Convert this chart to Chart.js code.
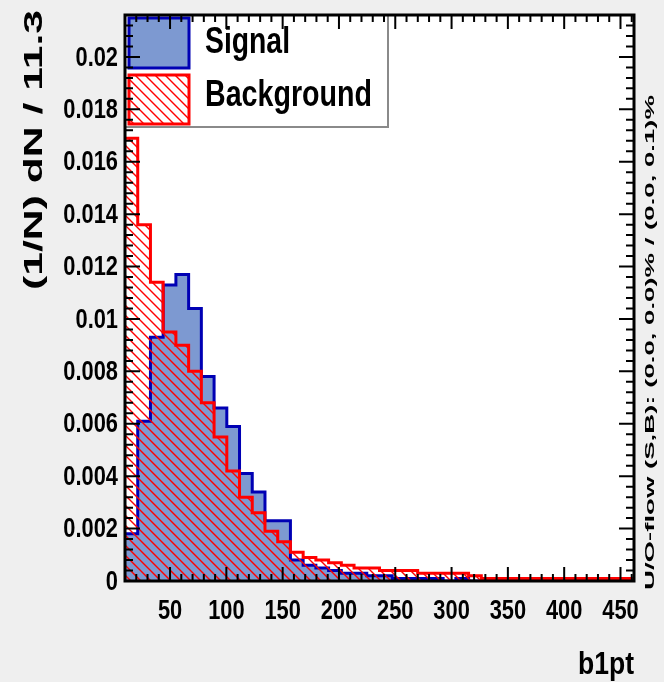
<!DOCTYPE html>
<html>
<head>
<meta charset="utf-8">
<title>b1pt</title>
<style>
  body { margin: 0; background: #efefef; }
  canvas { display: block; }
</style>
</head>
<body>
<canvas id="canvasChart" width="664" height="682"></canvas>
<script src="https://cdn.jsdelivr.net/npm/chart.js"></script>
<script>

// b1pt histogram: 40 bins of width 11.3 starting at 10, normalised to unit area
var binLow = 10;
var binWidth = 11.3;
var nBins = 40;

var signal = [0.0018, 0.0061, 0.0093, 0.0113, 0.0117, 0.0104, 0.0078, 0.0066, 0.0059, 0.0041,
              0.0034, 0.0023, 0.0023, 0.0008, 0.0006, 0.0005, 0.0004, 0.0003, 0.0003, 0.0002,
              0.0002, 0.0001, 0.0001, 0.0001, 0.0001, 0.0000, 0.0001, 0.0000, 0.0000, 0.0000,
              0.0000, 0.0000, 0.0000, 0.0000, 0.0000, 0.0000, 0.0000, 0.0000, 0.0000, 0.0000];

var background = [0.0169, 0.0136, 0.0114, 0.0095, 0.0090, 0.0080, 0.0068, 0.0055, 0.0042, 0.0032,
                  0.0026, 0.0019, 0.0015, 0.0011, 0.0009, 0.0008, 0.0007, 0.0006, 0.0005, 0.0005,
                  0.0004, 0.0004, 0.0004, 0.0003, 0.0003, 0.0003, 0.0003, 0.0002, 0.0001, 0.0001,
                  0.0001, 0.0001, 0.0001, 0.0001, 0.0001, 0.0001, 0.0001, 0.0001, 0.0001, 0.0001];

var xTicks = [50, 100, 150, 200, 250, 300, 350, 400, 450];
var yTicks = [0, 0.002, 0.004, 0.006, 0.008, 0.01, 0.012, 0.014, 0.016, 0.018, 0.02];
var yMax = 0.0216;
var xMinorStep = 10;
var yMinorStep = 0.0004;

var FONT = "'Liberation Sans', Arial, sans-serif";
var SQUEEZE = 0.78;

// turn bin contents into step points (left edge of each bin + closing right edge)
function toSteps(values) {
    var pts = values.map(function(v, i) {
        return { x: binLow + i * binWidth, y: v };
    });
    pts.push({ x: binLow + nBins * binWidth, y: values[values.length - 1] });
    return pts;
}

// red "\\\" hatching used for the background fill
function makeHatch() {
    var size = 10;
    var c = document.createElement('canvas');
    c.width = size; c.height = size;
    var g = c.getContext('2d');
    g.strokeStyle = '#ff0000';
    g.lineWidth = 1.4;
    g.beginPath();
    g.moveTo(0, 0); g.lineTo(size, size);
    g.moveTo(-size, 0); g.lineTo(size, 2 * size);
    g.moveTo(0, -size); g.lineTo(2 * size, size);
    g.stroke();
    return g.createPattern(c, 'repeat');
}

var hatch = makeHatch();

// text stretched/squeezed so it covers a given length
function fitText(ctx, text, x, y, angle, length, font, align) {
    ctx.save();
    ctx.font = font;
    var w = ctx.measureText(text).width;
    ctx.restore();
    squeezeText(ctx, text, x, y, angle, length / w, font, align);
}

function squeezeText(ctx, text, x, y, angle, sx, font, align) {
    ctx.save();
    ctx.translate(x, y);
    ctx.rotate(angle);
    ctx.scale(sx, 1);
    ctx.font = font;
    ctx.textAlign = align || 'left';
    ctx.textBaseline = 'middle';
    ctx.fillStyle = '#000';
    ctx.fillText(text, 0, 0);
    ctx.restore();
}

function tickText(v) {
    return String(+v.toFixed(3));
}

var framePlugin = {
    id: 'rootFrame',
    beforeDraw: function(chart) {
        var ctx = chart.ctx, a = chart.chartArea;
        ctx.save();
        ctx.fillStyle = '#efefef';
        ctx.fillRect(0, 0, chart.width, chart.height);
        ctx.fillStyle = '#ffffff';
        ctx.fillRect(a.left, a.top, a.right - a.left, a.bottom - a.top);
        ctx.restore();
    },
    afterDatasetsDraw: function(chart) {
        // legend box in the top-left corner of the frame
        var ctx = chart.ctx, a = chart.chartArea;
        ctx.save();
        ctx.fillStyle = '#ffffff';
        ctx.fillRect(a.left, a.top, 263, 112);
        ctx.strokeStyle = '#8a8a8a';
        ctx.lineWidth = 2;
        ctx.beginPath();
        ctx.moveTo(a.left, a.top + 112);
        ctx.lineTo(a.left + 263, a.top + 112);
        ctx.lineTo(a.left + 263, a.top);
        ctx.stroke();

        var sig = chart.data.datasets[0], bkg = chart.data.datasets[1];
        ctx.lineWidth = 3;
        ctx.fillStyle = sig.backgroundColor;
        ctx.fillRect(a.left + 4, a.top + 3, 60, 50);
        ctx.strokeStyle = sig.borderColor;
        ctx.strokeRect(a.left + 4, a.top + 3, 60, 50);

        ctx.fillStyle = '#ffffff';
        ctx.fillRect(a.left + 4, a.top + 60, 60, 49);
        ctx.fillStyle = bkg.backgroundColor;
        ctx.fillRect(a.left + 4, a.top + 60, 60, 49);
        ctx.strokeStyle = bkg.borderColor;
        ctx.strokeRect(a.left + 4, a.top + 60, 60, 49);

        fitText(ctx, sig.label, a.left + 80, a.top + 28, 0, 85, 'bold 36px ' + FONT);
        fitText(ctx, bkg.label, a.left + 80, a.top + 81, 0, 167, 'bold 36px ' + FONT);
        ctx.restore();
    },
    afterDraw: function(chart) {
        var ctx = chart.ctx, a = chart.chartArea;
        var xs = chart.scales.x, ys = chart.scales.y;
        ctx.save();
        ctx.strokeStyle = '#000';
        ctx.lineWidth = 2;
        ctx.beginPath();
        // x ticks, bottom and top
        var first = Math.ceil(xs.min / xMinorStep) * xMinorStep;
        for (var v = first; v <= xs.max; v += xMinorStep) {
            var px = xs.getPixelForValue(v);
            var len = (v % 50 === 0) ? 14 : 7;
            ctx.moveTo(px, a.bottom); ctx.lineTo(px, a.bottom - len);
            ctx.moveTo(px, a.top); ctx.lineTo(px, a.top + len);
        }
        // y ticks, left and right
        for (var i = 0; i * yMinorStep <= ys.max; i++) {
            var py = ys.getPixelForValue(i * yMinorStep);
            var l = (i % 5 === 0) ? 15 : 8;
            ctx.moveTo(a.left, py); ctx.lineTo(a.left + l, py);
            ctx.moveTo(a.right, py); ctx.lineTo(a.right - l, py);
        }
        ctx.stroke();
        ctx.lineWidth = 3;
        ctx.strokeRect(a.left, a.top, a.right - a.left, a.bottom - a.top);

        // tick labels from the scales' own ticks, in a narrow bold face
        var tf = 'bold 28px ' + FONT;
        xs.ticks.forEach(function(t) {
            squeezeText(ctx, tickText(t.value), xs.getPixelForValue(t.value), 611, 0, SQUEEZE, tf, 'center');
        });
        ys.ticks.forEach(function(t) {
            squeezeText(ctx, tickText(t.value), a.left - 7, ys.getPixelForValue(t.value) + 1, 0, SQUEEZE, tf, 'right');
        });

        // axis titles and overflow note
        fitText(ctx, '(1/N) dN / 11.3', 35, 290, -Math.PI / 2, 280, 'bold 26px ' + FONT);
        fitText(ctx, 'U/O-flow (S,B): (0.0, 0.0)% / (0.0, 0.1)%', 650, 590, -Math.PI / 2, 495, 'bold 13px ' + FONT);
        fitText(ctx, 'b1pt', a.right, 665, 0, 56, 'bold 32px ' + FONT, 'right');
        ctx.restore();
    }
};

var chart = new Chart(document.getElementById('canvasChart'), {
    type: 'line',
    data: {
        datasets: [{
            label: 'Signal',
            data: toSteps(signal),
            stepped: 'before',
            borderColor: '#0000b4',
            backgroundColor: '#7d99d1',
            borderWidth: 3,
            fill: 'origin',
            pointRadius: 0,
            order: 2
        }, {
            label: 'Background',
            data: toSteps(background),
            stepped: 'before',
            borderColor: '#ff0000',
            backgroundColor: hatch,
            borderWidth: 3,
            fill: 'origin',
            pointRadius: 0,
            order: 1
        }]
    },
    options: {
        responsive: false,
        animation: false,
        layout: { padding: { left: 0, right: 30, top: 15, bottom: 0 } },
        plugins: { legend: { display: false }, tooltip: { enabled: false } },
        scales: {
            x: {
                type: 'linear',
                min: binLow,
                max: binLow + nBins * binWidth,
                grid: { display: false },
                border: { display: false },
                afterBuildTicks: function(s) { s.ticks = xTicks.map(function(v) { return { value: v }; }); },
                afterFit: function(s) { s.height = 101; },
                ticks: { display: false }
            },
            y: {
                min: 0,
                max: yMax,
                grid: { display: false },
                border: { display: false },
                afterBuildTicks: function(s) { s.ticks = yTicks.map(function(v) { return { value: v }; }); },
                afterFit: function(s) { s.width = 125; },
                ticks: { display: false }
            }
        }
    },
    plugins: [framePlugin]
});

</script>
</body>
</html>
